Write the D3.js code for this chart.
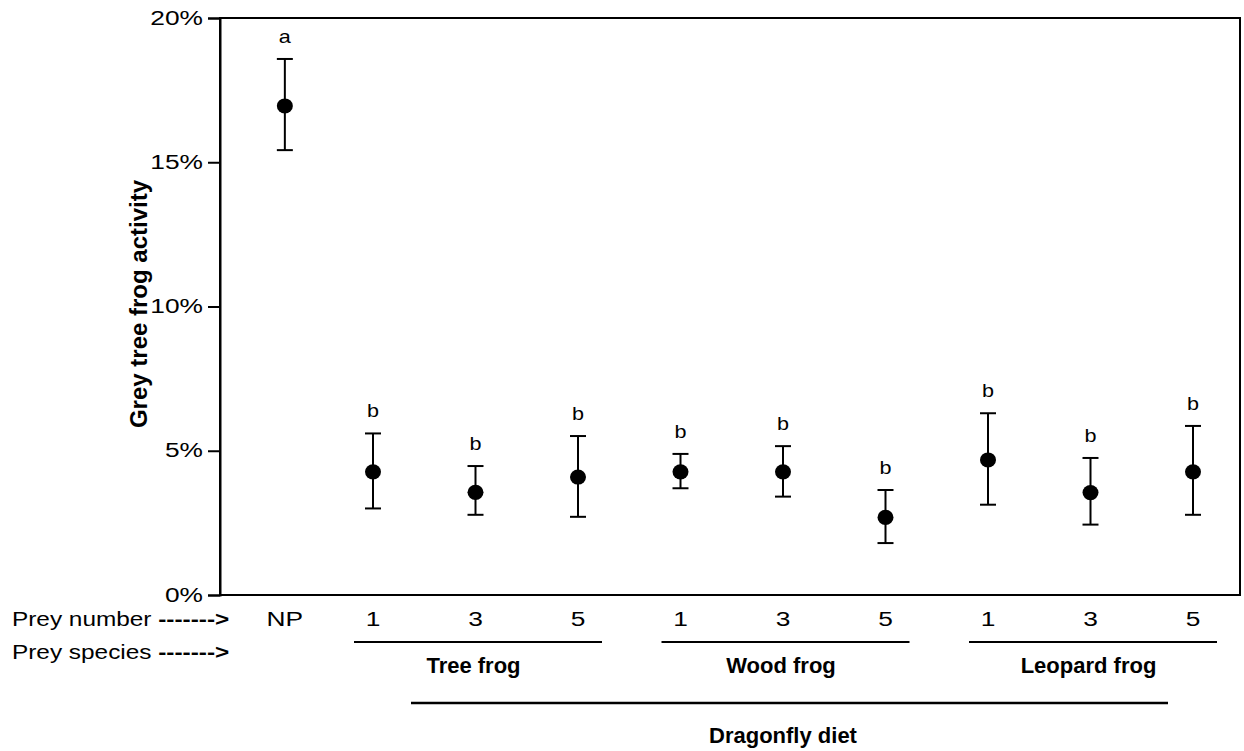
<!DOCTYPE html>
<html>
<head>
<meta charset="utf-8">
<script src="https://cdn.jsdelivr.net/npm/d3@7"></script>
<style>
  html, body { margin: 0; padding: 0; background: #fff; }
  svg { display: block; font-family: "Liberation Sans", Arial, sans-serif; }
</style>
</head>
<body>
<svg id="chart" width="1244" height="751"></svg>
<script>
// ---- data ----
const categories = ["NP", "1", "3", "5", "1", "3", "5", "1", "3", "5"];
const speciesOf  = ["", "Tree frog", "Tree frog", "Tree frog", "Wood frog", "Wood frog", "Wood frog", "Leopard frog", "Leopard frog", "Leopard frog"];
const means  = [16.95, 4.27, 3.56, 4.09, 4.27, 4.27, 2.69, 4.68, 3.55, 4.27];
const upper  = [18.58, 5.60, 4.47, 5.51, 4.89, 5.16, 3.64, 6.30, 4.75, 5.86];
const lower  = [15.42, 3.00, 2.78, 2.71, 3.70, 3.41, 1.80, 3.13, 2.44, 2.78];
const letters = ["a", "b", "b", "b", "b", "b", "b", "b", "b", "b"];
const speciesGroups = ["Tree frog", "Wood frog", "Leopard frog"];
const dietLabel = "Dragonfly diet";
const yTicks = [0, 5, 10, 15, 20];
const yTitle = "Grey tree frog activity";
const rowLabels = ["Prey number", "Prey species"];

// ---- layout ----
const svg = d3.select("#chart");
const plot = { left: 220, right: 1240, top: 18, bottom: 595 };
const npGap = 0.86;           // slot distance between NP and first diet point
const stretch = 1.35;         // horizontal stretch of regular text
const slot = categories.map((c, i) => i === 0 ? 1 - npGap : i);

const x = d3.scaleLinear().domain([1, 9]).range([373, 1193]);
const y = d3.scaleLinear().domain([0, 20]).range([plot.bottom, plot.top]);

// ---- frame ----
svg.append("rect")
  .attr("x", plot.left).attr("y", plot.top)
  .attr("width", plot.right - plot.left).attr("height", plot.bottom - plot.top)
  .attr("fill", "none").attr("stroke", "#000").attr("stroke-width", 2);

// ---- y axis ----
const yAxis = svg.append("g")
  .attr("transform", `translate(${plot.left},0)`)
  .call(d3.axisLeft(y).tickValues(yTicks).tickSize(12).tickFormat(d => d + "%"));
yAxis.select(".domain").attr("stroke-width", 2);
yAxis.selectAll(".tick line").attr("stroke-width", 2);
yAxis.selectAll(".tick text")
  .attr("x", null)
  .attr("transform", `translate(-17,0) scale(${stretch},1)`)
  .attr("font-size", 19.5)
  .attr("font-family", "Liberation Sans, Arial, sans-serif")
  .attr("fill", "#000");

// y title
svg.append("text")
  .attr("transform", `translate(147,304) rotate(-90)`)
  .attr("text-anchor", "middle")
  .attr("font-size", 24).attr("font-weight", "bold")
  .text(yTitle);

// ---- error bars ----
const capHalf = 8;
const g = svg.append("g");
const pts = categories.map((c, i) => ({ c, i, s: slot[i], m: means[i], lo: lower[i], hi: upper[i], l: letters[i] }));

g.selectAll("line.err").data(pts).enter().append("line")
  .attr("x1", d => x(d.s)).attr("x2", d => x(d.s))
  .attr("y1", d => y(d.lo)).attr("y2", d => y(d.hi))
  .attr("stroke", "#000").attr("stroke-width", 2);
g.selectAll("line.capHi").data(pts).enter().append("line")
  .attr("x1", d => x(d.s) - capHalf).attr("x2", d => x(d.s) + capHalf)
  .attr("y1", d => y(d.hi)).attr("y2", d => y(d.hi))
  .attr("stroke", "#000").attr("stroke-width", 2);
g.selectAll("line.capLo").data(pts).enter().append("line")
  .attr("x1", d => x(d.s) - capHalf).attr("x2", d => x(d.s) + capHalf)
  .attr("y1", d => y(d.lo)).attr("y2", d => y(d.lo))
  .attr("stroke", "#000").attr("stroke-width", 2);
g.selectAll("ellipse.pt").data(pts).enter().append("ellipse")
  .attr("cx", d => x(d.s)).attr("cy", d => y(d.m))
  .attr("rx", 8).attr("ry", 7.6).attr("fill", "#000");

// significance letters
g.selectAll("text.letter").data(pts).enter().append("text")
  .attr("transform", d => `translate(${x(d.s)},${y(d.hi) - 16}) scale(1.2,1)`)
  .attr("text-anchor", "middle")
  .attr("font-size", 18)
  .text(d => d.l);

// ---- x category labels ----
svg.selectAll("text.xcat").data(pts).enter().append("text")
  .attr("transform", d => `translate(${x(d.s)},626) scale(${stretch},1)`)
  .attr("text-anchor", "middle")
  .attr("font-size", 19.5)
  .text(d => d.c);

// row labels with arrows
rowLabels.forEach((lab, k) => {
  const t = svg.append("text")
    .attr("transform", `translate(12,${626 + k * 33}) scale(1.25,1)`)
    .attr("font-size", 19.5);
  t.append("tspan").text(lab + " ");
  t.append("tspan").attr("font-weight", "bold").text("------->");
});

// ---- species groups ----
speciesGroups.forEach(sp => {
  const idx = speciesOf.map((s, i) => s === sp ? i : -1).filter(i => i >= 0);
  const x0 = x(slot[idx[0]]), x1 = x(slot[idx[idx.length - 1]]);
  const mid = x(slot[idx[Math.floor(idx.length / 2)]]);
  svg.append("line")
    .attr("x1", x0 - 19).attr("x2", x1 + 24)
    .attr("y1", 642).attr("y2", 642)
    .attr("stroke", "#000").attr("stroke-width", 2);
  svg.append("text")
    .attr("x", mid - 2).attr("y", 673)
    .attr("text-anchor", "middle")
    .attr("font-size", 22).attr("font-weight", "bold")
    .text(sp);
});

// ---- dragonfly diet ----
const dietIdx = speciesOf.map((s, i) => s ? i : -1).filter(i => i >= 0);
const dx0 = x(slot[dietIdx[0]]), dx1 = x(slot[dietIdx[dietIdx.length - 1]]);
svg.append("line")
  .attr("x1", dx0 + 38).attr("x2", dx1 - 25)
  .attr("y1", 703).attr("y2", 703)
  .attr("stroke", "#000").attr("stroke-width", 2.5);
svg.append("text")
  .attr("x", (dx0 + dx1) / 2).attr("y", 743)
  .attr("text-anchor", "middle")
  .attr("font-size", 22).attr("font-weight", "bold")
  .text(dietLabel);
</script>
</body>
</html>
